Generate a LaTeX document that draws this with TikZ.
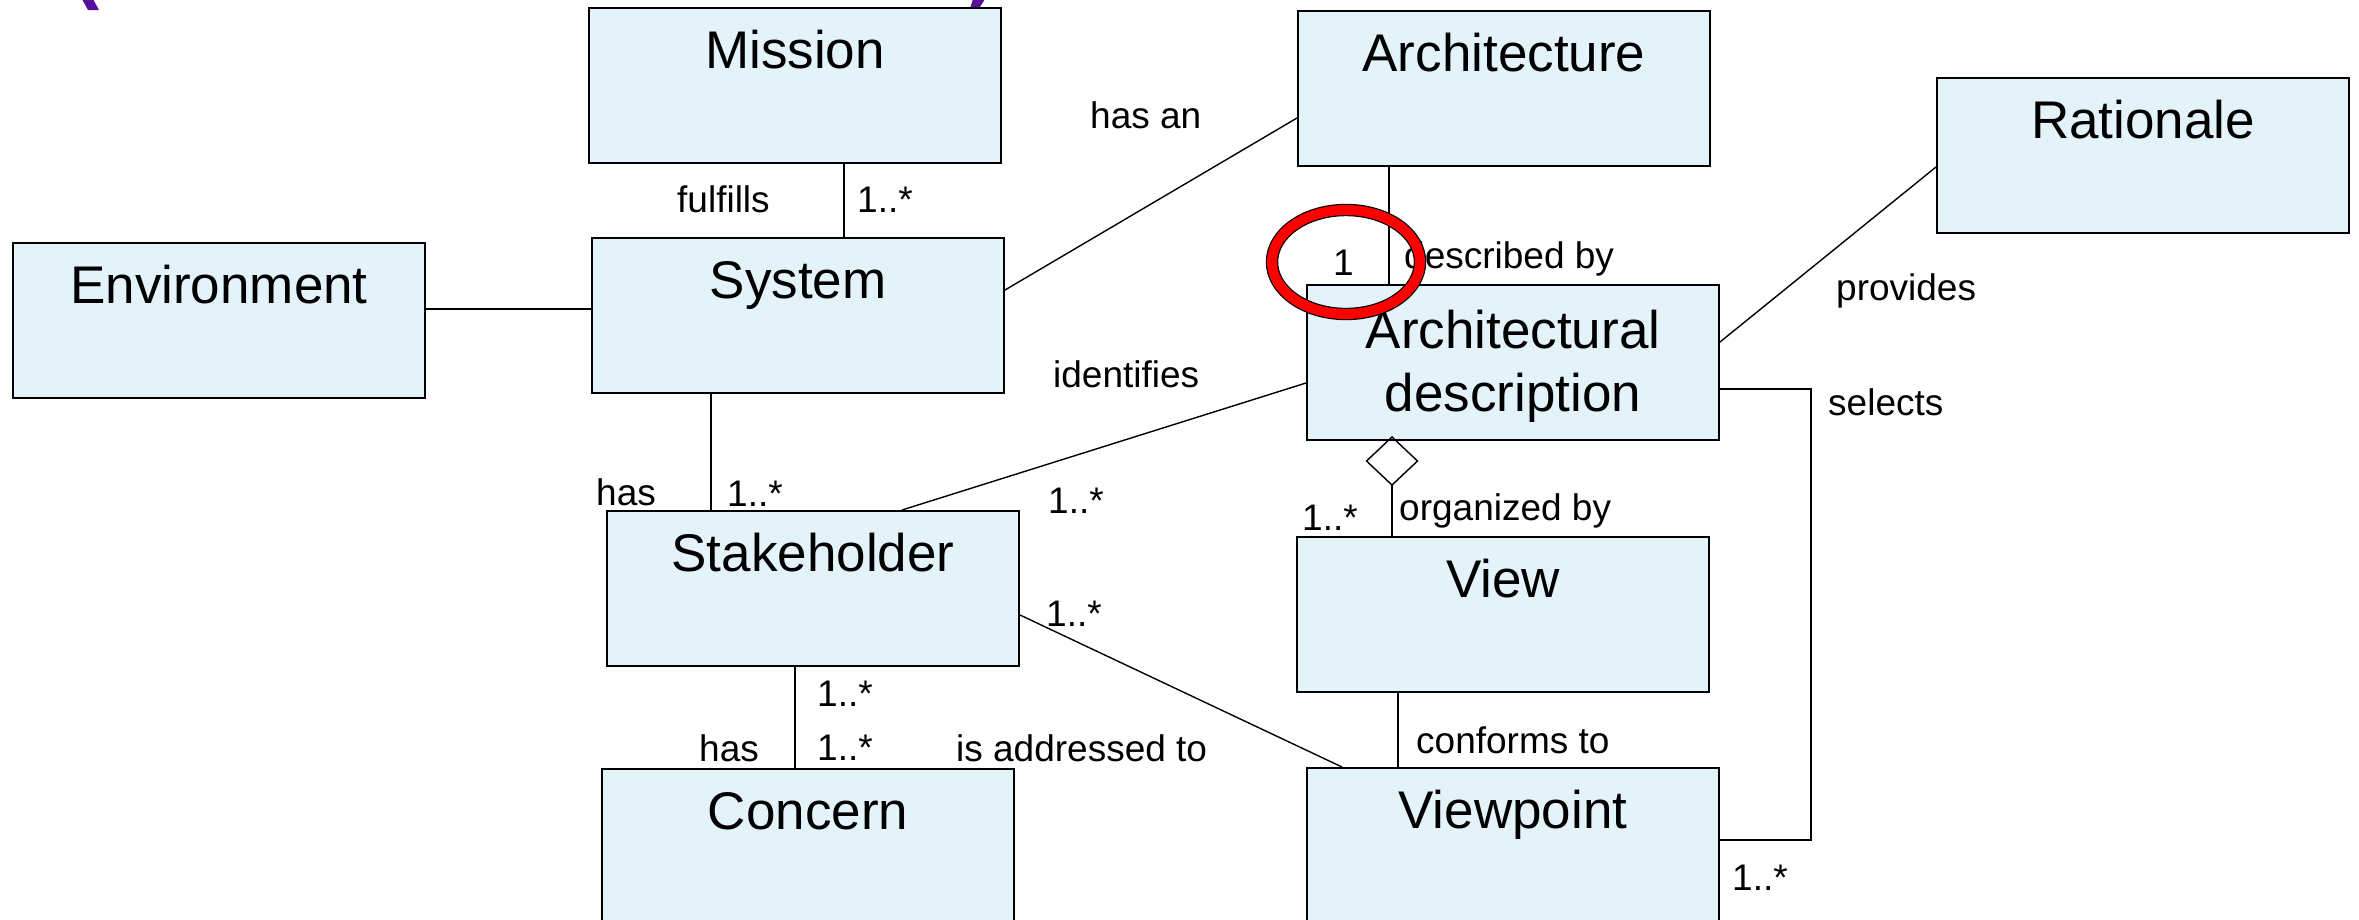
\documentclass[tikz,border=0pt]{standalone}
\usepackage{fontspec}
\setmainfont{Liberation Sans}
\usetikzlibrary{arrows.meta}
\definecolor{boxfill}{HTML}{E4F2FA}
\definecolor{ringred}{HTML}{FF0000}
\definecolor{titlepurple}{HTML}{5A0F9C}

\begin{document}
\begin{tikzpicture}[x=1pt,y=-1pt,
  umlbox/.style={draw=black, line width=2pt, fill=boxfill, inner sep=0pt,
    anchor=north west, minimum width=412pt, minimum height=155pt},
  boxtitle/.style={anchor=base, font=\fontsize{53}{63}\selectfont, inner sep=0pt},
  assoc/.style={line width=1.4pt},
  lbl/.style={font=\fontsize{37}{44}\selectfont, inner sep=0pt, anchor=base west},
]
\useasboundingbox (0,0) rectangle (2359,919);
\clip (0,0) rectangle (2359,919);

% bottoms of the purple heading brackets
\fill[titlepurple] (82,-1) -- (93,-1) -- (99,10) -- (88,10) -- cycle;
\fill[titlepurple] (973,-1) -- (985,-1) -- (980,7) -- (970.5,7) -- cycle;

% classes
\node[umlbox] (mission)     at (588,7)    {};
\node[umlbox] (environment) at (12,242)   {};
\node[umlbox] (system)      at (591,237)  {};
\node[umlbox] (arch)        at (1297,10)  {};
\node[umlbox] (rationale)   at (1936,77)  {};
\node[umlbox] (ad)          at (1306,284) {};
\node[umlbox] (stake)       at (606,510)  {};
\node[umlbox] (view)        at (1296,536) {};
\node[umlbox] (concern)     at (601,768)  {};
\node[umlbox] (viewpoint)   at (1306,767) {};

\node[boxtitle] (missionT)     at ([yshift=-61pt]mission.north)     {Mission};
\node[boxtitle] (environmentT) at ([yshift=-61pt]environment.north) {Environment};
\node[boxtitle] (systemT)      at ([yshift=-61pt]system.north)      {System};
\node[boxtitle] (archT)        at ([yshift=-61pt]arch.north)        {Architecture};
\node[boxtitle] (rationaleT)   at ([yshift=-61pt]rationale.north)   {Rationale};
\node[boxtitle] (adT)          at ([yshift=-64pt]ad.north)          {Architectural};
\node[boxtitle] (adT2)         at ([yshift=-127pt]ad.north)         {description};
\node[boxtitle] (stakeT)       at ([yshift=-61pt]stake.north)       {Stakeholder};
\node[boxtitle] (viewT)        at ([yshift=-61pt]view.north)        {View};
\node[boxtitle] (concernT)     at ([yshift=-61pt]concern.north)     {Concern};
\node[boxtitle] (viewpointT)   at ([yshift=-61pt]viewpoint.north)   {Viewpoint};

% associations
\draw[assoc] (mission.south -| 844,0) -- (system.north -| 844,0);
\draw[assoc] (environment.east |- 0,309) -- (system.west |- 0,309);
\draw[assoc] (system.east |- 0,290) -- (arch.west |- 0,118);
\draw[assoc] (arch.south -| 1389,0) -- (ad.north -| 1389,0);
\draw[assoc] (ad.east |- 0,342) -- (rationale.west |- 0,167);
\coordinate (selcorner) at (1811,840);
\draw[assoc] (ad.east |- 0,389) -| (selcorner) -- (viewpoint.east |- selcorner);
\draw[assoc, {Diamond[open, length=50pt, width=53pt, line width=1.4pt]}-]
  ([yshift=5pt]ad.south -| 1392,0) -- (view.north -| 1392,0);
\draw[assoc] (view.south -| 1398,0) -- (viewpoint.north -| 1398,0);
\draw[assoc] (system.south -| 711,0) -- (stake.north -| 711,0);
\draw[assoc] (stake.north -| 902,0) -- (ad.west |- 0,383);
\draw[assoc] (stake.east |- 0,615) -- (viewpoint.north -| 1342,0);
\draw[assoc] (stake.south -| 795,0) -- (concern.north -| 795,0);

% role names and multiplicities
\node[lbl] (l1)  at (677,212)  {fulfills};
\node[lbl] (l2)  at (857,212)  {1..*};
\node[lbl] (l3)  at (1090,128) {has an};
\node[lbl] (l4)  at (1404,268) {described by};
\node[lbl] (l5)  at (1333,275) {1};
\node[lbl] (l6)  at (1836,300) {provides};
\node[lbl] (l7)  at (1828,415) {selects};
\node[lbl] (l8)  at (1053,387) {identifies};
\node[lbl] (l9)  at (596,505)  {has};
\node[lbl] (l10) at (727,506)  {1..*};
\node[lbl] (l11) at (1048,513) {1..*};
\node[lbl] (l12) at (1302,530) {1..*};
\node[lbl] (l13) at (1399,520) {organized by};
\node[lbl] (l14) at (1046,626) {1..*};
\node[lbl] (l15) at (817,706)  {1..*};
\node[lbl] (l16) at (817,760)  {1..*};
\node[lbl] (l17) at (699,761)  {has};
\node[lbl] (l18) at (956,761)  {is addressed to};
\node[lbl] (l19) at (1416,753) {conforms to};
\node[lbl] (l20) at (1732,890) {1..*};

% highlight ring around the multiplicity
\draw[draw=black, line width=1.2pt, double=ringred, double distance=10pt]
  (1346,262) ellipse [x radius=74pt, y radius=52pt];
\end{tikzpicture}
\end{document}
